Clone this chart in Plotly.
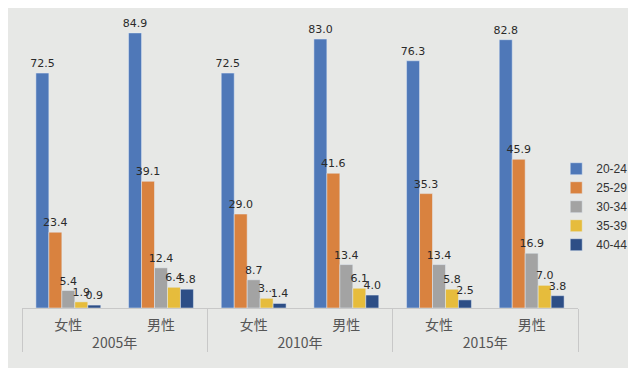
import plotly.graph_objects as go

years = ["2005年", "2005年", "2010年", "2010年", "2015年", "2015年"]
genders = ["女性", "男性", "女性", "男性", "女性", "男性"]
age_groups = ["20-24", "25-29", "30-34", "35-39", "40-44"]
values = {
    "20-24": [72.5, 84.9, 72.5, 83.0, 76.3, 82.8],
    "25-29": [23.4, 39.1, 29.0, 41.6, 35.3, 45.9],
    "30-34": [5.4, 12.4, 8.7, 13.4, 13.4, 16.9],
    "35-39": [1.9, 6.4, 3.0, 6.1, 5.8, 7.0],
    "40-44": [0.9, 5.8, 1.4, 4.0, 2.5, 3.8],
}
labels = {
    "35-39": ["1.9", "6.4", "3...", "6.1", "5.8", "7.0"],
}
colors = ["#4F78B8", "#D9823F", "#A3A3A3", "#E6BC3C", "#2D4E86"]

fig = go.Figure()
for g, c in zip(age_groups, colors):
    txt = labels.get(g, [f"{v:.1f}" for v in values[g]])
    fig.add_trace(go.Bar(
        x=[years, genders], y=values[g], name=g, marker_color=c,
        text=txt, textposition="outside", textangle=0,
        constraintext="none", cliponaxis=False, legendgroup=g,
        textfont=dict(size=11, color="#2a2a2a", family="DejaVu Sans"),
    ))

fig.update_layout(
    width=636, height=368, barmode="group", bargap=0.3, bargroupgap=0,
    paper_bgcolor="#E7E8E6", plot_bgcolor="#E7E8E6",
    margin=dict(l=14, r=66, t=10, b=68, autoexpand=False),
    font=dict(family="Noto Sans CJK SC", size=12, color="#3a3a3a"),
    legend=dict(xref="container", yref="container", x=0.862, y=0.46,
                xanchor="left", yanchor="middle",
                font=dict(size=12, family="Liberation Sans", color="#333"),
                traceorder="normal", itemwidth=30, tracegroupgap=9),
    showlegend=True,
)
fig.update_yaxes(range=[0, 89.5], visible=False, showgrid=False)
fig.update_xaxes(showline=True, linecolor="#C8C8C8", showdividers=True,
                 dividercolor="#C8C8C8", dividerwidth=1, ticks="",
                 ticklabelstandoff=4,
                 tickfont=dict(size=14, color="#555"))
fig.write_html("out.html")
